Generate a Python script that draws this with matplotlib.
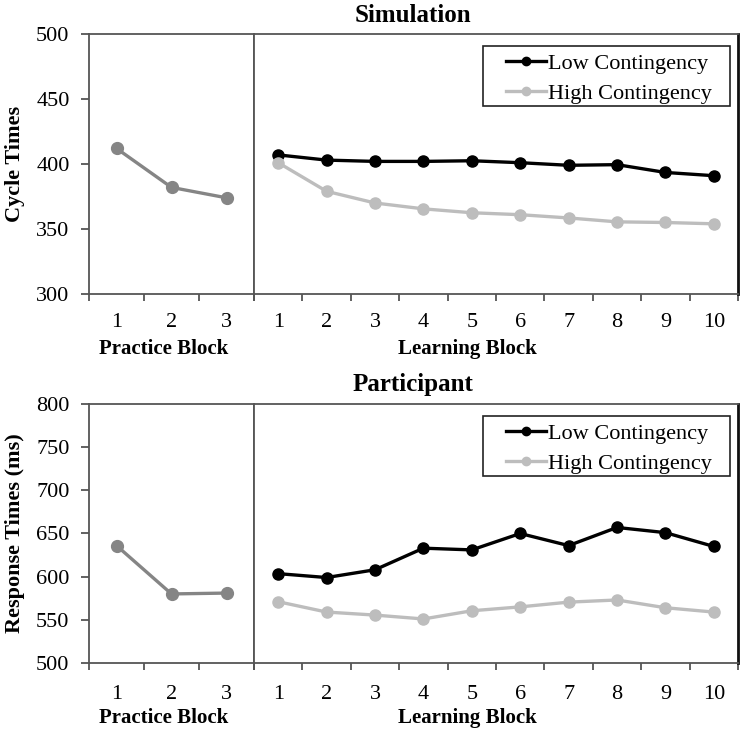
import matplotlib.pyplot as plt
from matplotlib.patches import Rectangle
import numpy as np

plt.rcParams['font.family'] = ['Liberation Serif', 'DejaVu Serif']

# ---- data ----
practice_blocks = [1, 2, 3]
learning_blocks = [1, 2, 3, 4, 5, 6, 7, 8, 9, 10]

sim_practice = [412, 382, 374]
sim_low = [407, 403, 402, 402, 402.5, 401, 399, 399.5, 393.5, 391]
sim_high = [401, 379, 370, 365.5, 362.5, 361, 358.5, 355.5, 355, 354]

part_practice = [636, 580, 581]
part_low = [603.5, 599, 608, 633, 631, 650, 636, 657, 651, 635]
part_high = [571, 559, 555.5, 551, 560.5, 565, 570.5, 573, 564, 559]

LOW_COL = '#000000'
HIGH_COL = '#bdbdbd'
PRAC_COL = '#858585'
SPINE_COL = '#555555'

W, H = 741, 729


def draw_panel(fig, top_px, bot_px, title, ylabel, ylim, yticks,
               practice, low, high, xpad):
    bottom = 1 - bot_px / H
    height = (bot_px - top_px) / H
    axl = fig.add_axes([89/W, bottom, 165/W, height])
    axr = fig.add_axes([254/W, bottom, 484/W, height])

    axl.plot(practice_blocks, practice, color=PRAC_COL, lw=2.4,
             marker='o', ms=8.5)
    axr.plot(learning_blocks, low, color=LOW_COL, lw=2.4, marker='o', ms=8,
             label='Low Contingency')
    axr.plot(learning_blocks, high, color=HIGH_COL, lw=2.4, marker='o', ms=8,
             label='High Contingency')

    axl.set_xlim(0.5, 3.5)
    axr.set_xlim(0.5, 10.5)
    for ax in (axl, axr):
        ax.set_ylim(*ylim)
        for s in ax.spines.values():
            s.set_color(SPINE_COL)
            s.set_linewidth(1.3)
        ax.tick_params(axis='x', which='major', length=0, pad=xpad,
                       labelsize=16)
        ax.tick_params(axis='x', which='minor', length=5, direction='out',
                       color=SPINE_COL, width=1.3)
    axl.set_xticks(practice_blocks)
    axl.set_xticks(np.arange(0.5, 4, 1), minor=True)
    axr.set_xticks(learning_blocks)
    axr.set_xticks(np.arange(0.5, 11, 1), minor=True)

    axl.set_yticks(yticks)
    axl.tick_params(axis='y', length=6, direction='out', color=SPINE_COL,
                    width=1.3, labelsize=16, pad=8)
    axr.set_yticks([])
    axr.spines['right'].set_color('#111111')
    axr.spines['right'].set_linewidth(2)

    mid = 1 - (top_px + bot_px) / 2 / H
    fig.text(15/W, mid, ylabel, rotation=90, ha='center', va='center',
             fontsize=16, fontweight='bold')
    fig.text(413/W, 1 - (top_px - 19) / H, title, ha='center', va='center',
             fontsize=18, fontweight='bold')
    fig.text(164/W, 1 - (bot_px + 55) / H, 'Practice Block', ha='center',
             va='center', fontsize=15, fontweight='bold')
    fig.text(467/W, 1 - (bot_px + 55) / H, 'Learning Block', ha='center',
             va='center', fontsize=15, fontweight='bold')

    # legend entries, with a plain box drawn round them
    axr.legend(loc='upper left', bbox_to_anchor=(0.512, 0.942),
               fontsize=16, handlelength=1.8, handletextpad=0.1,
               borderpad=0.2, labelspacing=0.42, frameon=False,
               borderaxespad=0, markerscale=0.75)
    axr.add_patch(Rectangle((0.473, 0.722), 0.51, 0.233,
                            transform=axr.transAxes, fill=False,
                            edgecolor='#222222', lw=1.2, zorder=5))


fig = plt.figure(figsize=(W/100, H/100), dpi=100)

draw_panel(fig, 34, 294, 'Simulation', 'Cycle Times',
           (300, 500), [300, 350, 400, 450, 500],
           sim_practice, sim_low, sim_high, 14)
draw_panel(fig, 404, 663, 'Participant', 'Response Times (ms)',
           (500, 800), [500, 550, 600, 650, 700, 750, 800],
           part_practice, part_low, part_high, 16)

fig.savefig('out.png', dpi=100)
